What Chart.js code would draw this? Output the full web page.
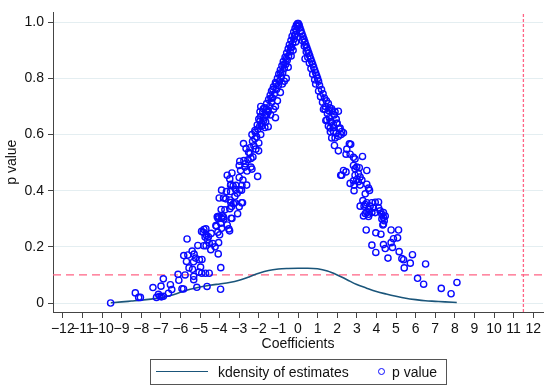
<!DOCTYPE html>
<html lang="en">
  <head>
    <meta charset="UTF-8" />
    <title>p value vs coefficients</title>
    <style>
      body { margin: 0; background: #fff; font-family: "Liberation Sans", Arial, sans-serif; }
      .wrap { position: relative; width: 550px; height: 391px; }
      .legend { position: absolute; left: 150px; top: 359px; width: 295px; height: 24px; border: 1px solid #555; font-size: 14px; color: #111; }
      .legend span { position: absolute; top: 0; line-height: 24px; white-space: nowrap; }
      .legend .line { top: 11px; left: 5px; width: 52px; height: 0; border-top: 1.6px solid #1a557a; }
      .legend .dot { top: 8px; left: 227px; width: 5px; height: 5px; border: 1.4px solid #0a0aff; border-radius: 50%; }
    </style>
  </head>
  <body>
    <div class="wrap">
      <canvas id="pChart" width="550" height="391"></canvas>
      <div class="legend">
        <span class="line"></span>
        <span style="left: 67px">kdensity of estimates</span>
        <span class="dot"></span>
        <span style="left: 241px">p value</span>
      </div>
    </div>
    <script src="https://cdn.jsdelivr.net/npm/chart.js"></script>
    <script>
      // axis ticks
      const xTicks = [-12, -11, -10, -9, -8, -7, -6, -5, -4, -3, -2, -1, 0, 1, 2, 3, 4, 5, 6, 7, 8, 9, 10, 11, 12];
      const xTickLabels = xTicks.map((v) => (v < 0 ? "\u2212" + Math.abs(v) : String(v)));
      const yTicks = [0, 0.2, 0.4, 0.6, 0.8, 1.0];
      const yTickLabels = ["0", "0.2", "0.4", "0.6", "0.8", "1.0"];

      // reference lines
      const pCutoff = 0.1;
      const trueEffect = 11.5;

      // kernel density of the estimates
      const kdensX = [-9.55, -9, -8.5, -8, -7.5, -7, -6.5, -6, -5.5, -5, -4.5, -4, -3.5, -3, -2.5, -2, -1.5, -1, -0.5, 0, 0.5, 1, 1.5, 2, 2.5, 3, 3.5, 4, 4.5, 5, 5.5, 6, 6.5, 7, 7.5, 8.1];
      const kdensY = [0.001, 0.004, 0.007, 0.01, 0.014, 0.019, 0.027, 0.038, 0.049, 0.057, 0.063, 0.068, 0.073, 0.081, 0.093, 0.106, 0.116, 0.121, 0.123, 0.124, 0.124, 0.122, 0.114, 0.1, 0.083, 0.066, 0.053, 0.041, 0.032, 0.024, 0.017, 0.012, 0.008, 0.006, 0.004, 0.002];

      // [coefficient, p value]
      const leftArm = [
        [-9.56,0.0],[-8.3,0.036],[-8.13,0.02],[-8.04,0.02],[-7.4,0.055],[-7.22,0.02],[-7.12,0.031],[-7.05,0.024],[-6.97,0.022],[-6.87,0.024],
        [-6.99,0.06],[-6.87,0.086],[-6.61,0.035],[-6.51,0.065],[-6.44,0.048],[-6.12,0.102],[-6.08,0.081],[-5.92,0.051],[-5.84,0.05],[-5.76,0.1],
        [-5.66,0.228],[-5.83,0.169],[-5.62,0.171],[-5.69,0.148],[-5.56,0.125],[-5.33,0.147],[-5.38,0.12],[-5.32,0.095],[-5.32,0.083],[-5.23,0.16],
        [-5.4,0.185],[-5.3,0.174],[-5.16,0.056],[-5.11,0.205],[-5.03,0.154],[-4.97,0.128],[-5.05,0.11],[-4.91,0.106],[-4.9,0.155],[-4.81,0.204],
        [-4.74,0.235],[-4.67,0.241],[-4.84,0.252],[-4.7,0.264],[-4.57,0.236],[-4.62,0.226],[-4.69,0.204],[-4.72,0.106],[-4.53,0.106],[-4.64,0.059],
        [-4.53,0.214],[-4.45,0.19],[-4.35,0.212],[-4.23,0.2],[-4.05,0.215],[-4.07,0.175],[-4.43,0.248],[-4.19,0.276],[-4.09,0.252],[-4.0,0.243],
        [-4.05,0.309],[-4.09,0.306],[-3.8,0.306],[-3.9,0.302],[-3.94,0.126],[-3.95,0.049],[-4.8,0.262],[-4.92,0.255],
        [-3.92,0.333],[-4.12,0.307],[-4.07,0.3],[-3.85,0.31],[-3.78,0.299],[-3.94,0.284],[-4.16,0.273],[-3.9,0.266],[-3.53,0.264],[-3.61,0.278],
        [-3.41,0.302],[-3.08,0.318],[-3.48,0.336],[-3.22,0.357],[-2.88,0.357],[-3.68,0.371],[-4.02,0.374],[-3.9,0.402],[-3.65,0.397],[-3.44,0.397],
        [-3.61,0.455],[-3.48,0.442],[-3.37,0.463],[-3.43,0.423],[-3.31,0.417],[-3.19,0.405],[-2.97,0.403],[-2.86,0.419],[-2.81,0.438],[-2.62,0.42],
        [-3.0,0.447],[-2.93,0.472],[-2.71,0.484],[-2.76,0.507],[-2.97,0.505],[-3.0,0.49],[-2.69,0.496],[-2.4,0.484],[-2.35,0.477],[-2.06,0.451],
        [-2.4,0.515],[-2.52,0.537],[-2.45,0.553],[-2.78,0.568],[-2.32,0.576],[-2.25,0.56],[-2.11,0.592],[-2.15,0.548],[-2.01,0.542],[-2.45,0.533],
        [-2.18,0.608],[-2.08,0.634],[-1.94,0.648],[-2.2,0.614],[-1.77,0.658],[-1.6,0.669],[-1.94,0.681],[-1.77,0.692],[-1.52,0.681],[-1.69,0.625],
        [-1.52,0.628],[-3.49,0.257],[-3.37,0.301],[-3.39,0.344],[-3.43,0.358],[-3.0,0.343],[-3.22,0.38],[-3.29,0.354],[-3.1,0.391],[-2.88,0.402],
        [-3.17,0.419],[-3.44,0.419],[-2.83,0.357],[-3.8,0.374],[-3.73,0.332],[-3.46,0.367],[-2.55,0.51],[-2.6,0.47],[-2.3,0.52],[-2.2,0.585],
        [-1.9,0.6],[-2.35,0.6],[-1.85,0.63],[-1.65,0.645],[-2.0,0.57],[-2.65,0.55],
        [-2.05,0.62],[-1.95,0.63],[-1.85,0.64],[-2.0,0.655],[-1.75,0.65],[-1.9,0.665],[-1.65,0.67],[-1.8,0.68],[-1.55,0.685],[-1.7,0.695],
        [-1.45,0.7],[-1.6,0.71],[-1.35,0.715],[-1.5,0.725],[-1.3,0.73],[-1.42,0.74],[-1.2,0.745],[-1.35,0.755],[-1.1,0.76],[-1.25,0.77],
        [-1.0,0.775],[-1.15,0.785],[-0.95,0.79],[-1.05,0.8],[-0.85,0.805],[-0.98,0.815],[-0.78,0.82],[-0.9,0.83],[-0.7,0.835],[-0.82,0.845],
        [-0.62,0.85],[-0.75,0.86],[-0.55,0.865],[-0.66,0.875],[-0.48,0.88],[-0.58,0.89],[-0.4,0.895],[-0.5,0.905],[-0.33,0.91],[-0.44,0.92],
        [-0.27,0.925],[-0.36,0.935],[-0.2,0.94],[-0.3,0.95],[-0.14,0.955],[-0.22,0.965],[-0.08,0.97],[-0.15,0.978],[-0.04,0.985],[-0.08,0.99],
        [-0.02,0.995],[-1.6,0.69],[-1.38,0.73],[-1.12,0.78],[-0.88,0.82],[-0.6,0.87],[-0.38,0.91],[-0.18,0.95],[-1.28,0.76],[-0.72,0.85],
        [-1.15,0.7],[-1.25,0.69],[-1.9,0.7],[-0.6,0.8],[-0.7,0.79],[-0.8,0.78],[-0.5,0.84],[-0.35,0.88],[-0.25,0.9],[-0.12,0.93],
        [-1.05,0.72],[-0.9,0.75],[-1.4,0.67],[-1.15,0.66]
      ];
      const rightArm = [
        [0.02,0.995],[0.06,0.99],[0.1,0.98],[0.15,0.97],[0.2,0.96],[0.12,0.965],[0.25,0.95],[0.3,0.94],[0.22,0.935],[0.35,0.93],
        [0.4,0.92],[0.32,0.915],[0.45,0.91],[0.5,0.9],[0.42,0.895],[0.55,0.89],[0.6,0.88],[0.5,0.875],[0.65,0.87],[0.7,0.86],
        [0.58,0.855],[0.75,0.85],[0.8,0.84],[0.66,0.835],[0.85,0.83],[0.9,0.82],[0.75,0.815],[0.95,0.81],[1.0,0.8],[0.85,0.795],
        [1.05,0.79],[0.9,0.78],[1.1,0.775],[1.2,0.76],[1.05,0.755],[1.28,0.745],[1.15,0.735],[1.35,0.73],[1.45,0.72],[1.25,0.715],
        [1.55,0.71],[1.4,0.7],[1.62,0.695],[1.3,0.69],[1.75,0.685],[1.5,0.675],[1.85,0.67],[1.6,0.66],[1.95,0.655],[1.42,0.65],
        [1.7,0.645],[2.0,0.64],[1.55,0.63],[1.8,0.625],[2.1,0.62],[1.65,0.61],[1.95,0.605],[2.2,0.6],[0.36,0.87],
        [1.38,0.69],[1.55,0.686],[1.72,0.692],[1.89,0.681],[2.06,0.683],[1.47,0.652],[1.64,0.646],[1.81,0.634],[1.98,0.64],[2.15,0.623],
        [2.23,0.611],[2.06,0.594],[1.89,0.588],[1.72,0.588],[2.32,0.606],[1.64,0.623],[1.81,0.611],[1.86,0.561],[2.06,0.542],[2.49,0.548],
        [2.62,0.567],[2.69,0.565],[2.45,0.53],[2.66,0.53],[2.83,0.519],[2.91,0.513],[3.29,0.522],[2.83,0.49],[2.91,0.478],[3.0,0.484],
        [3.13,0.482],[3.51,0.472],[2.32,0.472],[2.23,0.455],[2.45,0.467],[2.18,0.455],[2.91,0.455],[3.08,0.461],[3.17,0.449],[3.0,0.44],
        [2.83,0.435],[3.08,0.432],[3.26,0.438],[2.66,0.426],[2.86,0.42],[3.17,0.42],[2.86,0.4],[3.51,0.423],[3.6,0.409],[3.65,0.401],
        [3.43,0.389],[3.31,0.365],[3.51,0.357],[3.37,0.345],[3.77,0.357],[3.94,0.359],[4.11,0.36],[3.68,0.345],[3.6,0.333],[3.85,0.339],
        [4.11,0.339],[4.19,0.328],[3.43,0.319],[3.6,0.316],[3.77,0.322],[4.36,0.322],[4.45,0.31],[4.28,0.299],[4.4,0.293],[4.33,0.278],
        [3.17,0.345],[3.43,0.351],[3.51,0.322],[3.34,0.31],[3.6,0.308],[3.94,0.322],[4.28,0.316],[4.36,0.305],[4.36,0.281],[3.48,0.26],
        [3.97,0.25],[4.23,0.245],[4.75,0.26],[5.13,0.26],[4.87,0.229],[5.08,0.232],[4.75,0.215],[4.36,0.208],[3.77,0.206],[4.45,0.194],
        [3.97,0.18],[4.82,0.198],[5.16,0.183],[5.84,0.172],[5.3,0.158],[5.39,0.154],[5.73,0.142],[4.59,0.16],[5.42,0.125],[6.51,0.139],
        [6.1,0.088],[6.41,0.067],[7.31,0.052],[7.81,0.033],[8.11,0.073]
      ];

      const xMin = -12.5, xMax = 12.5, yMin = -0.032, yMax = 1.035;

      Chart.defaults.font.family = '"Liberation Sans", Arial, sans-serif';
      Chart.defaults.font.size = 14;
      Chart.defaults.color = "#111";

      const pPoints = leftArm.concat(rightArm).map((p) => ({ x: p[0], y: p[1] }));
      const kdensPoints = kdensX.map((x, i) => ({ x: x, y: kdensY[i] }));

      const ctx = document.getElementById("pChart").getContext("2d");
      const pChart = new Chart(ctx, {
        type: "scatter",
        data: {
          datasets: [
            {
              label: "p value",
              data: pPoints,
              order: 0,
              pointStyle: "circle",
              pointRadius: 3.1,
              borderWidth: 1.4,
              borderColor: "#0a0aff",
              backgroundColor: "rgba(0,0,0,0)",
            },
            {
              type: "line",
              label: "kdensity of estimates",
              data: kdensPoints,
              order: 1,
              borderColor: "#1a557a",
              borderWidth: 1.6,
              pointRadius: 0,
              cubicInterpolationMode: "monotone",
            },
            {
              type: "line",
              label: "cutoff",
              data: [{ x: xMin, y: pCutoff }, { x: xMax, y: pCutoff }],
              order: 2,
              borderColor: "#ff6384",
              borderWidth: 1.2,
              borderDash: [8, 5],
              pointRadius: 0,
            },
            {
              type: "line",
              label: "true effect",
              data: [{ x: trueEffect, y: yMin }, { x: trueEffect, y: yMax }],
              order: 2,
              borderColor: "#ff6384",
              borderWidth: 1.3,
              borderDash: [3, 2],
              pointRadius: 0,
            },
          ],
        },
        options: {
          responsive: false,
          animation: false,
          layout: { padding: { top: 5, right: 7, left: 0, bottom: 0 } },
          plugins: { legend: { display: false }, tooltip: { enabled: false } },
          scales: {
            x: {
              type: "linear",
              min: xMin,
              max: xMax,
              afterBuildTicks: (s) => { s.ticks = xTicks.map((v) => ({ value: v })); },
              afterFit: (s) => { s.height = 79; },
              ticks: {
                autoSkip: false,
                maxRotation: 0,
                minRotation: 0,
                padding: 3,
                color: "#111",
                callback: (v, i) => xTickLabels[i],
              },
              grid: { drawOnChartArea: false, tickLength: 6, tickColor: "#444", color: "#444" },
              border: { color: "#444", width: 1 },
              title: { display: true, text: "Coefficients", color: "#111", padding: { top: 0, bottom: 38 } },
            },
            y: {
              type: "linear",
              min: yMin,
              max: yMax,
              afterBuildTicks: (s) => { s.ticks = yTicks.map((v) => ({ value: v })); },
              afterFit: (s) => { s.width = 53; },
              ticks: { padding: 4, color: "#111", callback: (v, i) => yTickLabels[i] },
              grid: { color: "#e4eef1", tickLength: 5, tickColor: "#444" },
              border: { color: "#444", width: 1 },
              title: { display: true, text: "p value", color: "#111", padding: { top: 4, bottom: 0 } },
            },
          },
        },
      });
    </script>
  </body>
</html>
